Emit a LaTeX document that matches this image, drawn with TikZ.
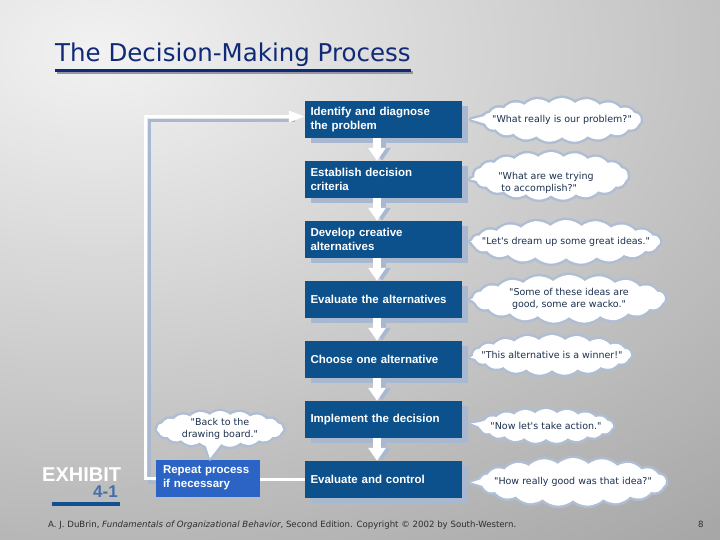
\documentclass[tikz,border=0pt]{standalone}
\usepackage{fontspec}
\setmainfont{Liberation Sans}
\newfontfamily\djv{DejaVu Sans}
\usetikzlibrary{arrows.meta,shapes.symbols,shadows,calc}
\definecolor{boxblue}{RGB}{12,80,140}
\definecolor{repblue}{RGB}{44,100,198}
\definecolor{shadowblue}{RGB}{168,184,208}
\definecolor{cloudline}{RGB}{176,190,212}
\definecolor{cloudtxt}{RGB}{28,48,78}
\definecolor{titleblue}{RGB}{16,42,120}
\definecolor{titleshadow}{RGB}{150,150,158}
\definecolor{exhblue}{RGB}{18,80,145}
\definecolor{exhnum}{RGB}{70,110,170}
\definecolor{foottext}{RGB}{45,45,45}
\definecolor{bgA}{RGB}{242,242,242}
\definecolor{bgB}{RGB}{140,140,140}
\definecolor{bgC}{RGB}{122,122,122}
\definecolor{bgD}{RGB}{116,116,116}
\pgfdeclareradialshading{bgshade}{\pgfpoint{0bp}{0bp}}{color(0bp)=(bgA); color(23.5bp)=(bgB); color(27.8bp)=(bgC); color(50bp)=(bgD)}
\pgfdeclarelayer{backlayer}
\pgfdeclarelayer{shadowlayer}
\pgfsetlayers{backlayer,shadowlayer,main}
\newcommand{\boxfont}{\fontsize{11.5}{14}\selectfont\bfseries}
\newcommand{\cloudfont}{\djv\fontsize{9.5}{12}\selectfont}
\newcommand{\mkcloud}[8]{%
  \node[cloudshape, draw=cloudline, line width=5pt, minimum width=#3, minimum height=#4] (#1) at (#2) {};
  \draw[cloudline, line width=5pt, line join=round] (#5) -- (#7) -- (#6);
  \node[cloudshape, fill=white, minimum width=#3, minimum height=#4] at (#2) {};
  \fill[white] (#5) -- (#7) -- (#6) -- cycle;
  \node[cloudtext] at (#2) {#8};
}
\tikzset{
  stepbox/.style={rectangle, fill=boxblue, text=white, font=\boxfont,
    minimum width=157pt, minimum height=37pt, text width=146pt, align=left,
    inner xsep=5.5pt, inner ysep=0pt,
    general shadow={fill=shadowblue, shadow xshift=6pt, shadow yshift=-5pt}},
  repbox/.style={rectangle, fill=repblue, text=white, font=\boxfont,
    minimum width=104pt, minimum height=37pt, text width=90pt, align=left,
    inner xsep=7pt, inner ysep=0pt},
  flowarrow/.style={draw=white, line width=8pt, -{Triangle[width=17pt,length=13pt]}},
  flowshadow/.style={draw=shadowblue, line width=8pt, -{Triangle[width=17pt,length=13pt]},
    transform canvas={xshift=5pt}},
  loopline/.style={draw=white, line width=3pt},
  loopshadow/.style={draw=shadowblue, line width=3pt, transform canvas={xshift=4pt,yshift=-4pt}},
  cloudshape/.style={cloud, cloud puffs=19, cloud puff arc=85, cloud ignores aspect, inner sep=0pt},
  cloudtext/.style={font=\cloudfont, text=cloudtxt, align=center, inner sep=0pt},
}
\begin{document}
\begin{tikzpicture}[x=1pt,y=-1pt]
\useasboundingbox (0,0) rectangle (720,540);
\begin{pgfonlayer}{backlayer}
  \begin{scope}
    \clip (0,0) rectangle (720,540);
    \shade[shading=bgshade] (100,50) ellipse [x radius=1404, y radius=900];
  \end{scope}
\end{pgfonlayer}

% title
\node[anchor=base west, inner sep=0pt, font=\djv\fontsize{24.5}{28}\selectfont, text=titleblue] (title) at (55,62) {The Decision-Making Process};
\draw[titleshadow, line width=2.5pt] ([xshift=2pt,yshift=-10.5pt]title.base west) -- ([xshift=2pt,yshift=-10.5pt]title.base east);
\draw[titleblue, line width=2.5pt] ([yshift=-8.5pt]title.base west) -- ([yshift=-8.5pt]title.base east);

% steps
\node[stepbox] (b1) at (383.5,119.5) {Identify and diagnose\\the problem};
\node[stepbox] (b2) at (383.5,179.5) {Establish decision\\criteria};
\node[stepbox] (b3) at (383.5,239.5) {Develop creative\\alternatives};
\node[stepbox] (b4) at (383.5,299.5) {Evaluate the alternatives};
\node[stepbox] (b5) at (383.5,359.5) {Choose one alternative};
\node[stepbox] (b6) at (383.5,419.5) {Implement the decision};
\node[stepbox] (b7) at (383.5,479.5) {Evaluate and control};
\node[repbox] (rep) at (208,478) {Repeat process\\if necessary};

% flow arrows
\foreach \a/\b in {b1/b2,b2/b3,b3/b4,b4/b5,b5/b6,b6/b7}{
  \begin{pgfonlayer}{shadowlayer}
    \draw[flowshadow] ([xshift=-6.5pt]\a.south) -- ([xshift=-6.5pt]\b.north);
  \end{pgfonlayer}
  \draw[flowarrow] ([xshift=-6.5pt]\a.south) -- ([xshift=-6.5pt]\b.north);
}

% loop back
\begin{pgfonlayer}{shadowlayer}
  \draw[loopshadow, shorten >=14pt] (rep.west) -- ++(-10,0) |- ([yshift=3pt]b1.west);
\end{pgfonlayer}
\draw[loopline, -{Triangle[width=11pt,length=16pt]}] (rep.west) -- ++(-10,0) |- ([yshift=3pt]b1.west);
\draw[loopline] (b7.west) -- (b7.west -| rep.east);

% clouds
\mkcloud{c1}{562,120}{158pt}{44pt}{$(c1.west)+(16,-7)$}{$(c1.west)+(16,7)$}{$(b1.east)+(9,0)$}{"What really is our problem?"}
\mkcloud{c2}{551,176}{154pt}{48pt}{$(c2.west)+(16,-7)$}{$(c2.west)+(16,7)$}{$(b2.east)+(8,0)$}{}
\node[cloudtext, align=left] at (546,183) {"What are we trying\\\ to accomplish?"};
\mkcloud{c3}{566,242}{188pt}{44pt}{$(c3.west)+(16,-7)$}{$(c3.west)+(16,7)$}{$(b3.east)+(8,2)$}{"Let's dream up some great ideas."}
\mkcloud{c4}{569,299}{192pt}{48pt}{$(c4.west)+(16,-7)$}{$(c4.west)+(16,7)$}{$(b4.east)+(8,0)$}{"Some of these ideas are\\good, some are wacko."}
\mkcloud{c5}{552,355}{158pt}{40pt}{$(c5.west)+(16,-7)$}{$(c5.west)+(16,7)$}{$(b5.east)+(8,-2)$}{"This alternative is a winner!"}
\mkcloud{c6}{546,426}{134pt}{34pt}{$(c6.west)+(16,-6)$}{$(c6.west)+(16,6)$}{$(b6.east)+(9,4)$}{"Now let's take action."}
\mkcloud{c7}{573,482}{186pt}{48pt}{$(c7.west)+(16,-7)$}{$(c7.west)+(16,7)$}{$(b7.east)+(9,3)$}{"How really good was that idea?"}
\mkcloud{cb}{220,429}{126pt}{36pt}{$(cb.south)+(-16,-6)$}{$(cb.south)+(4,-6)$}{$(rep.north)+(2,-1)$}{"Back to the\\drawing board."}

% exhibit
\node[anchor=base west, inner sep=0pt, font=\fontsize{20}{20}\selectfont\bfseries, text=white] (exh) at (42,481) {EXHIBIT};
\node[anchor=base east, inner sep=0pt, font=\fontsize{17}{17}\selectfont\bfseries, text=exhnum] (exn) at (118,497) {4-1};
\node[fill=exhblue, minimum width=68pt, minimum height=4pt, inner sep=0pt] (bar) at (86,504) {};

% footer
\node[anchor=base west, inner sep=0pt, font=\djv\fontsize{8.6}{10}\selectfont, text=foottext] (foot) at (48,527) {A. J. DuBrin, \textit{Fundamentals of Organizational Behavior}, Second Edition. Copyright © 2002 by South-Western.};
\node[anchor=base west, inner sep=0pt, font=\djv\fontsize{8.6}{10}\selectfont, text=foottext] (page) at (698,527) {8};
\end{tikzpicture}
\end{document}
